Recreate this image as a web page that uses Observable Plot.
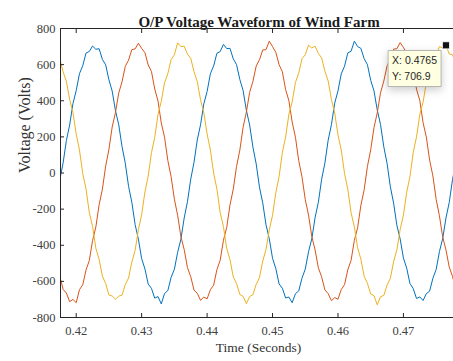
<!DOCTYPE html>
<html><head><meta charset="utf-8">
<script src="https://cdn.jsdelivr.net/npm/d3@7"></script>
<script src="https://cdn.jsdelivr.net/npm/@observablehq/plot@0.6"></script>
<style>body{margin:0;background:#fff}</style>
</head><body><div id="chart"></div>
<script>
const time = [
0.4175,0.4180,0.4185,0.4190,0.4195,0.4200,0.4205,0.4210,0.4215,0.4220,
0.4225,0.4230,0.4235,0.4240,0.4245,0.4250,0.4255,0.4260,0.4265,0.4270,
0.4275,0.4280,0.4285,0.4290,0.4295,0.4300,0.4305,0.4310,0.4315,0.4320,
0.4325,0.4330,0.4335,0.4340,0.4345,0.4350,0.4355,0.4360,0.4365,0.4370,
0.4375,0.4380,0.4385,0.4390,0.4395,0.4400,0.4405,0.4410,0.4415,0.4420,
0.4425,0.4430,0.4435,0.4440,0.4445,0.4450,0.4455,0.4460,0.4465,0.4470,
0.4475,0.4480,0.4485,0.4490,0.4495,0.4500,0.4505,0.4510,0.4515,0.4520,
0.4525,0.4530,0.4535,0.4540,0.4545,0.4550,0.4555,0.4560,0.4565,0.4570,
0.4575,0.4580,0.4585,0.4590,0.4595,0.4600,0.4605,0.4610,0.4615,0.4620,
0.4625,0.4630,0.4635,0.4640,0.4645,0.4650,0.4655,0.4660,0.4665,0.4670,
0.4675,0.4680,0.4685,0.4690,0.4695,0.4700,0.4705,0.4710,0.4715,0.4720,
0.4725,0.4730,0.4735,0.4740,0.4745,0.4750,0.4755,0.4760,0.4765,0.4770,
0.4775,0.4780];

// blue phase (Volts)
const phaseA = [
-36,56,180,266,384,456,550,594,664,673, 703,685,688,629,599,516,453,345,267,147,
54,-74,-162,-285,-366,-474,-531,-615,-639,-693, -684,-725,-667,-651,-578,-533,-439,-366,-249,-159,
-34,59,183,267,383,451,549,593,663,672, 712,689,690,632,600,518,457,347,266,143,
51,-78,-165,-286,-364,-472,-529,-614,-638,-692, -687,-718,-668,-653,-582,-532,-436,-364,-247,-162,
-35,55,182,268,387,455,549,591,665,674, 730,700,690,633,599,513,455,349,269,145,
53,-76,-167,-290,-365,-471,-527,-612,-640,-695, -686,-706,-668,-654,-583,-534,-435,-363,-249,-163,
-36,57];

// red phase (Volts)
const phaseB = [
-573,-644,-665,-712,-700,-718,-646,-619,-537,-485, -374,-299,-176,-90,38,131,255,335,443,505,
590,625,683,687,718,690,666,598,562,465, 399,277,198,69,-20,-145,-234,-352,-424,-524,
-574,-648,-666,-705,-687,-697,-646,-621,-535,-483, -372,-301,-176,-89,37,126,253,337,446,507,
592,627,681,683,730,700,668,600,560,462, 400,282,198,68,-21,-147,-233,-351,-426,-525,
-575,-647,-668,-707,-690,-699,-645,-618,-536,-484, -373,-303,-178,-93,37,129,251,333,444,509,
593,629,686,688,722,695,664,597,561,464, 402,279,199,71,-16,-146,-237,-354,-426,-521,
-573,-644];

// yellow phase (Volts)
const phaseC = [
630,560,508,407,336,215,127,-4,-88,-218, -296,-416,-478,-571,-612,-675,-681,-699,-682,-676,
-618,-581,-493,-429,-314,-231,-105,-17,113,197, 324,397,500,550,628,654,721,700,702,658,
635,561,506,405,333,216,128,-1,-89,-219, -297,-418,-480,-575,-612,-672,-683,-723,-684,-674,
-617,-579,-488,-424,-315,-234,-109,-20,114,199, 326,394,501,553,633,655,708,692,702,662,
637,564,509,406,332,211,127,-2,-90,-220, -298,-414,-478,-572,-611,-670,-679,-730,-685,-678,
-620,-583,-491,-425,-313,-232,-107,-19,115,200, 323,392,500,551,629,656,700,692,706.9,659,
655,600];

const xTicks = [0.42,0.43,0.44,0.45,0.46,0.47];
const yTicks = [-800,-600,-400,-200,0,200,400,600,800];
const xDomain = [0.4176,0.47765];
const yDomain = [-800,800];
const tipX = [0.4765];
const tipY = [706.9];
const titleText = "O/P Voltage Waveform of Wind Farm";
const xLabel = "Time (Seconds)";
const yLabel = "Voltage (Volts)";

const rows = (vals) => time.map((t, i) => ({t, v: vals[i]}));
const tipData = tipX.map((x, i) => ({x, y: tipY[i]}));
const axisColor = "#262626";

const chart = Plot.plot({
  width: 453, height: 361,
  marginLeft: 60, marginRight: 0, marginTop: 28, marginBottom: 44,
  x: {domain: xDomain},
  y: {domain: yDomain},
  style: {fontFamily: "'Liberation Serif', 'DejaVu Serif', serif", fontSize: "12px", color: axisColor, background: "#fff", overflow: "visible"},
  marks: [
    Plot.line(rows(phaseA), {x: "t", y: "v", stroke: "#0072BD", strokeWidth: 1, clip: true}),
    Plot.line(rows(phaseB), {x: "t", y: "v", stroke: "#D95319", strokeWidth: 1, clip: true}),
    Plot.line(rows(phaseC), {x: "t", y: "v", stroke: "#EDB120", strokeWidth: 1, clip: true}),
    Plot.ruleY(yDomain, {stroke: axisColor, strokeWidth: 1}),
    Plot.ruleX([xDomain[0]], {stroke: axisColor, strokeWidth: 1}),
    Plot.axisX({anchor: "bottom", ticks: xTicks, tickSize: -4, tickPadding: 13, tickFormat: d => d.toFixed(2), label: null, fill: "#404040", stroke: axisColor, fontSize: 12.5}),
    Plot.axisX({anchor: "top", ticks: xTicks, tickSize: -4, fill: "none", label: null, stroke: axisColor}),
    Plot.axisY({anchor: "left", ticks: yTicks, tickSize: -4, tickPadding: 9, tickFormat: d => String(d), label: null, fill: "#404040", stroke: axisColor, fontSize: 12.5}),
    Plot.text([titleText], {text: d => d, frameAnchor: "top", dy: -12, dx: 2, fontWeight: "bold", fontSize: 15, fill: "#1a1a1a"}),
    Plot.text([xLabel], {text: d => d, frameAnchor: "bottom", dy: 34, dx: 1.5, fontSize: 13.5, fill: "#333"}),
    Plot.text([yLabel], {text: d => d, frameAnchor: "left", rotate: -90, dx: -36, fontSize: 16, fill: "#333"}),
    Plot.dot(tipData, {x: "x", y: "y", symbol: "square", r: 4, fill: "#111", stroke: "#fff", strokeWidth: 0.8}),
    Plot.tip(tipData, {x: "x", y: "y", title: d => `X: ${d.x}\nY: ${d.y}`, anchor: "top-right", pointerSize: 0, dx: -4.4, dy: 5,
      fill: "#ffffe1", stroke: "#b5b5b5", fontFamily: "'Liberation Sans', Arial, sans-serif", fontSize: 10.5, textPadding: 4, lineHeight: 1.5})
  ]
});
document.getElementById("chart").appendChild(chart);
</script>
</body></html>
